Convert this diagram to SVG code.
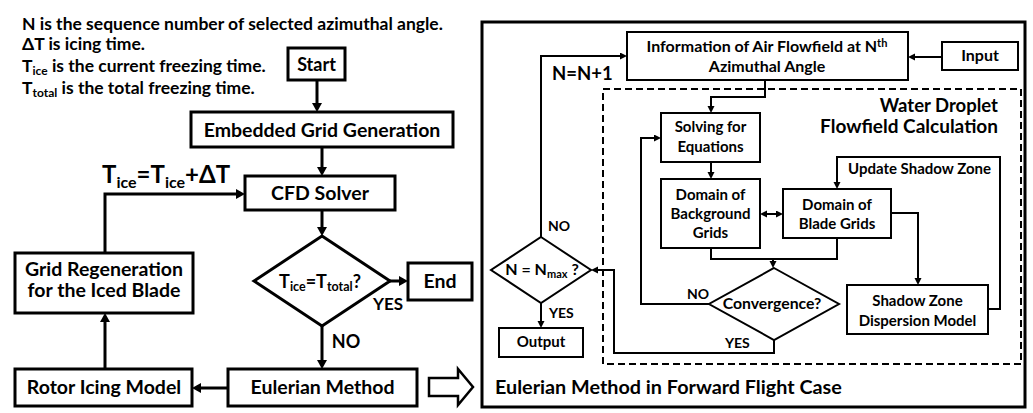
<svg xmlns="http://www.w3.org/2000/svg" width="1033" height="413" viewBox="0 0 1033 413">
<defs>
<style>
text{font-family:Lato,"Open Sans","Liberation Sans",sans-serif;font-weight:bold;fill:#000}
.c{text-anchor:middle}
.bx{fill:#fff;stroke:#000;stroke-width:3}
.bs{fill:#fff;stroke:#000;stroke-width:2}
.l3{fill:none;stroke:#000;stroke-width:3;marker-end:url(#A)}
.l2{fill:none;stroke:#000;stroke-width:2}
.a2{marker-end:url(#B)}
.f19{font-size:19.5px}
.f15{font-size:15px}
.f14{font-size:14px}
.nt{font-size:17.5px}
</style>
<marker id="A" markerUnits="userSpaceOnUse" markerWidth="12" markerHeight="12" refX="0" refY="5" orient="auto"><path d="M0,0 L9,5 L0,10 z" fill="#000"/></marker>
<marker id="B" markerUnits="userSpaceOnUse" markerWidth="10" markerHeight="10" refX="0" refY="3.5" orient="auto-start-reverse"><path d="M0,0 L7,3.5 L0,7 z" fill="#000"/></marker>
</defs>
<rect width="1033" height="413" fill="#fff"/>

<g id="notes">
<text x="22" y="30" class="nt">N is the sequence number of selected azimuthal angle.</text>
<text x="22" y="50" class="nt">ΔT is icing time.</text>
<text x="22" y="72" class="nt">T<tspan font-size="12" dy="3">ice</tspan><tspan dy="-3"> is the current freezing time.</tspan></text>
<text x="22" y="94" class="nt">T<tspan font-size="12" dy="3">total</tspan><tspan dy="-3"> is the total freezing time.</tspan></text>
</g>

<g id="left-connectors">
<path class="l3" d="M317,80 V103"/>
<path class="l3" d="M322,147 V167"/>
<path class="l3" d="M322,210 V227"/>
<path class="l3" d="M390,281 H399"/>
<path class="l3" d="M322,326 V360"/>
<path class="l3" d="M228,388 H201"/>
<path class="l3" d="M105,369 V322"/>
<path class="l3" d="M105,253 V194 H236"/>
</g>

<g id="start"><rect class="bx" x="288" y="48" width="57" height="32"/><text class="c" style="font-size:18px" x="316.5" y="71">Start</text></g>
<g id="embedded"><rect class="bx" x="191" y="112" width="262" height="35"/><text class="c f19" x="322" y="137">Embedded Grid Generation</text></g>
<g id="cfd"><rect class="bx" x="245" y="176" width="150" height="34"/><text class="c f19" x="320" y="200">CFD Solver</text></g>
<g id="decision1"><polygon class="bx" points="322,236 390,281 322,326 254,281"/><text class="c" x="320" y="288" style="font-size:18px">T<tspan font-size="12.5" dy="3">ice</tspan><tspan dy="-3">=T</tspan><tspan font-size="12.5" dy="3">total</tspan><tspan dy="-3">?</tspan></text></g>
<g id="end"><rect class="bx" x="408" y="263" width="64" height="37"/><text class="c f19" x="440" y="288">End</text></g>
<g id="eulerian"><rect class="bx" x="228" y="369" width="189" height="37"/><text class="c f19" x="322.5" y="394">Eulerian Method</text></g>
<g id="rotor"><rect class="bx" x="15" y="369" width="177" height="37"/><text class="c f19" x="104" y="394">Rotor Icing Model</text></g>
<g id="regen"><rect class="bx" x="15" y="253" width="178" height="60"/><text class="c f19" x="104" y="276">Grid Regeneration</text><text class="c f19" x="104" y="297">for the Iced Blade</text></g>
<g id="left-labels">
<text x="388" y="310" class="c" style="font-size:17px">YES</text>
<text x="346" y="348" class="c" style="font-size:18px">NO</text>
<text x="102" y="183" style="font-size:24px">T<tspan font-size="16" dy="5">ice</tspan><tspan dy="-5">=T</tspan><tspan font-size="16" dy="5">ice</tspan><tspan dy="-5">+ΔT</tspan></text>
</g>
<g id="hollow-arrow"><polygon points="429,378 458,378 458,369 473,387 458,405 458,396 429,396" fill="#fff" stroke="#000" stroke-width="2.5" stroke-linejoin="miter"/></g>

<g id="panel">
<rect x="482" y="22" width="543" height="385" fill="none" stroke="#000" stroke-width="3"/>
<rect x="603" y="89" width="418" height="275" fill="none" stroke="#000" stroke-width="2" stroke-dasharray="7,4"/>
<text x="998" y="112" style="font-size:18.5px;text-anchor:end">Water Droplet</text>
<text x="998" y="133" style="font-size:19px;text-anchor:end">Flowfield Calculation</text>
<text x="495" y="394" style="font-size:19.8px">Eulerian Method in Forward Flight Case</text>
</g>

<g id="right-connectors">
<path class="l2 a2" d="M942,57 H915"/>
<path class="l2 a2" d="M541,237 V56 H620"/>
<path class="l2 a2" d="M765,80 V97 H711 V106"/>
<path class="l2 a2" d="M711,162 V172"/>
<path class="l2 a2" d="M767,214 H776" marker-start="url(#B)"/>
<path class="l2 a2" d="M988,309 H1000 V157 H837 V182"/>
<path class="l2 a2" d="M891,213 H918 V278"/>
<path class="l2" d="M711,248 V259 H837 V238"/>
<path class="l2 a2" d="M773,259 V261"/>
<path class="l2 a2" d="M709,304 H641 V138 H654"/>
<path class="l2 a2" d="M774,340 V353 H614 V270 H598"/>
<path class="l2 a2" d="M541,303 V321"/>
</g>

<g id="info"><rect class="bs" x="627" y="32" width="281" height="48"/><text class="c" style="font-size:16px" x="767" y="52">Information of Air Flowfield at N<tspan font-size="11" dy="-5">th</tspan></text><text class="c" style="font-size:16px" x="767" y="72">Azimuthal Angle</text></g>
<g id="input"><rect class="bs" x="942" y="42" width="76" height="28"/><text class="c" style="font-size:16px" x="980" y="61">Input</text></g>
<g id="solving"><rect class="bs" x="661" y="113" width="99" height="49"/><text class="c f15" x="710.5" y="132">Solving for</text><text class="c f15" x="710.5" y="152">Equations</text></g>
<g id="background"><rect class="bs" x="661" y="179" width="99" height="69"/><text class="c f15" x="710.5" y="200">Domain of</text><text class="c f15" x="710.5" y="219">Background</text><text class="c f15" x="710.5" y="238">Grids</text></g>
<g id="blade"><rect class="bs" x="783" y="189" width="108" height="49"/><text class="c f15" x="837" y="210">Domain of</text><text class="c f15" x="837" y="229">Blade Grids</text></g>
<g id="shadow"><rect class="bs" x="847" y="285" width="141" height="49"/><text class="c f15" x="917.5" y="306">Shadow Zone</text><text class="c f15" x="917.5" y="326">Dispersion Model</text></g>
<g id="convergence"><polygon class="bs" points="774,268 839,304 774,340 709,304"/><text class="c" style="font-size:15.8px" x="772" y="309">Convergence?</text></g>
<g id="nmax"><polygon class="bs" points="541,237 591,270 541,303 491,270"/><text class="c" style="font-size:16px" x="542" y="275">N = N<tspan font-size="11" dy="3">max</tspan><tspan dy="-3"> ?</tspan></text></g>
<g id="output"><rect class="bs" x="499" y="328" width="84" height="29"/><text class="c f15" x="541" y="347">Output</text></g>
<g id="right-labels">
<text x="848" y="174" class="f15">Update Shadow Zone</text>
<text x="552" y="80" style="font-size:18.5px">N=N+1</text>
<text x="548" y="231" class="f14">NO</text>
<text x="549" y="318" class="f14">YES</text>
<text x="687" y="299" class="f14">NO</text>
<text x="725" y="348" class="f14">YES</text>
</g>
</svg>
